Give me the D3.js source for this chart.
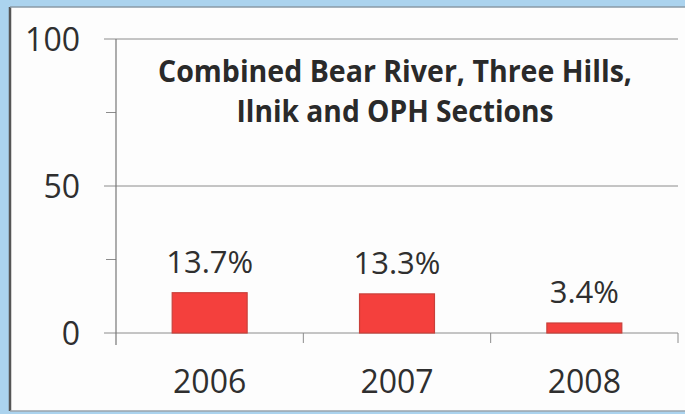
<!DOCTYPE html>
<html>
<head>
<meta charset="utf-8">
<script src="https://cdn.jsdelivr.net/npm/d3@7"></script>
<style>
  body { margin: 0; background: #abd3ee; }
  svg { display: block; }
  text { font-family: "Open Sans", sans-serif; fill: #2f2f2f; }
</style>
</head>
<body>
<svg id="chart" width="685" height="414"></svg>
<script>
var years = ["2006", "2007", "2008"];
var values = [13.7, 13.3, 3.4];
var yTicks = [0, 50, 100];
var yMinor = [25, 75];
var titleLines = ["Combined Bear River, Three Hills,", "Ilnik and OPH Sections"];

var svg = d3.select("#chart");

// white panel with scanned edge
svg.append("rect")
	.attr("x", 10).attr("y", 7)
	.attr("width", 680).attr("height", 404)
	.attr("fill", "#fdfdfd");
svg.append("line")
	.attr("x1", 10).attr("x2", 10).attr("y1", 7).attr("y2", 411)
	.attr("stroke", "#555").attr("stroke-width", 2.5);
svg.append("line")
	.attr("x1", 10).attr("x2", 685).attr("y1", 7).attr("y2", 7)
	.attr("stroke", "#8a9aa6").attr("stroke-width", 1.5);
svg.append("line")
	.attr("x1", 10).attr("x2", 685).attr("y1", 411).attr("y2", 411)
	.attr("stroke", "#9aa4ac").attr("stroke-width", 1.5);

var x = d3.scaleBand()
	.domain(years)
	.range([116, 678])
	.paddingInner(0.6)
	.paddingOuter(0.3);

var y = d3.scaleLinear()
	.domain([0, 100])
	.range([333, 39]);

// gridlines
svg.append("g").selectAll("line")
	.data(yTicks)
	.enter().append("line")
		.attr("x1", 104)
		.attr("x2", 678)
		.attr("y1", function(d) { return y(d); })
		.attr("y2", function(d) { return y(d); })
		.attr("stroke", "#8c8c8c")
		.attr("stroke-width", 1);

// minor ticks
svg.append("g").selectAll("line")
	.data(yMinor)
	.enter().append("line")
		.attr("x1", 106)
		.attr("x2", 116)
		.attr("y1", function(d) { return y(d); })
		.attr("y2", function(d) { return y(d); })
		.attr("stroke", "#8c8c8c");

// y axis line
svg.append("line")
	.attr("x1", 116).attr("x2", 116)
	.attr("y1", y(100)).attr("y2", y(0) + 12)
	.attr("stroke", "#777").attr("stroke-width", 1.2);

// category separators
var step = x.step();
var edges = d3.range(years.length + 1).map(function(i) { return x.range()[0] + i * step; });
svg.append("g").selectAll("line")
	.data(edges.slice(1))
	.enter().append("line")
		.attr("x1", function(d) { return d; })
		.attr("x2", function(d) { return d; })
		.attr("y1", y(0))
		.attr("y2", y(0) + 10)
		.attr("stroke", "#8c8c8c");

// y labels
svg.append("g").selectAll("text")
	.data(yTicks)
	.enter().append("text")
		.attr("x", 80)
		.attr("y", function(d) { return y(d); })
		.attr("dy", "0.36em")
		.attr("text-anchor", "end")
		.style("font-size", "32px")
		.text(function(d) { return d; });

// bars
svg.append("g").selectAll("rect")
	.data(values)
	.enter().append("rect")
		.attr("x", function(d, i) { return x(years[i]); })
		.attr("y", function(d) { return y(d); })
		.attr("width", x.bandwidth())
		.attr("height", function(d) { return y(0) - y(d); })
		.attr("fill", "#f4403d")
		.attr("stroke", "#c9403a")
		.attr("stroke-width", 1.2);

// value labels
svg.append("g").selectAll("text")
	.data(values)
	.enter().append("text")
		.attr("x", function(d, i) { return x(years[i]) + x.bandwidth() / 2; })
		.attr("y", function(d) { return y(d) - 20; })
		.attr("text-anchor", "middle")
		.style("font-size", "31px")
		.text(function(d) { return d.toFixed(1) + "%"; });

// category labels
svg.append("g").selectAll("text")
	.data(years)
	.enter().append("text")
		.attr("x", function(d) { return x(d) + x.bandwidth() / 2; })
		.attr("y", 393)
		.attr("text-anchor", "middle")
		.style("font-size", "32px")
		.text(function(d) { return d; });

// title
var titleWidths = [474, 317];
svg.append("g").selectAll("text")
	.data(titleLines)
	.enter().append("text")
		.attr("x", 395)
		.attr("y", function(d, i) { return 82 + i * 40; })
		.attr("text-anchor", "middle")
		.attr("textLength", function(d, i) { return titleWidths[i]; })
		.attr("lengthAdjust", "spacingAndGlyphs")
		.style("font-size", "31px")
		.style("font-weight", "bold")
		.style("fill", "#2a2a2a")
		.text(function(d) { return d; });
</script>
</body>
</html>
